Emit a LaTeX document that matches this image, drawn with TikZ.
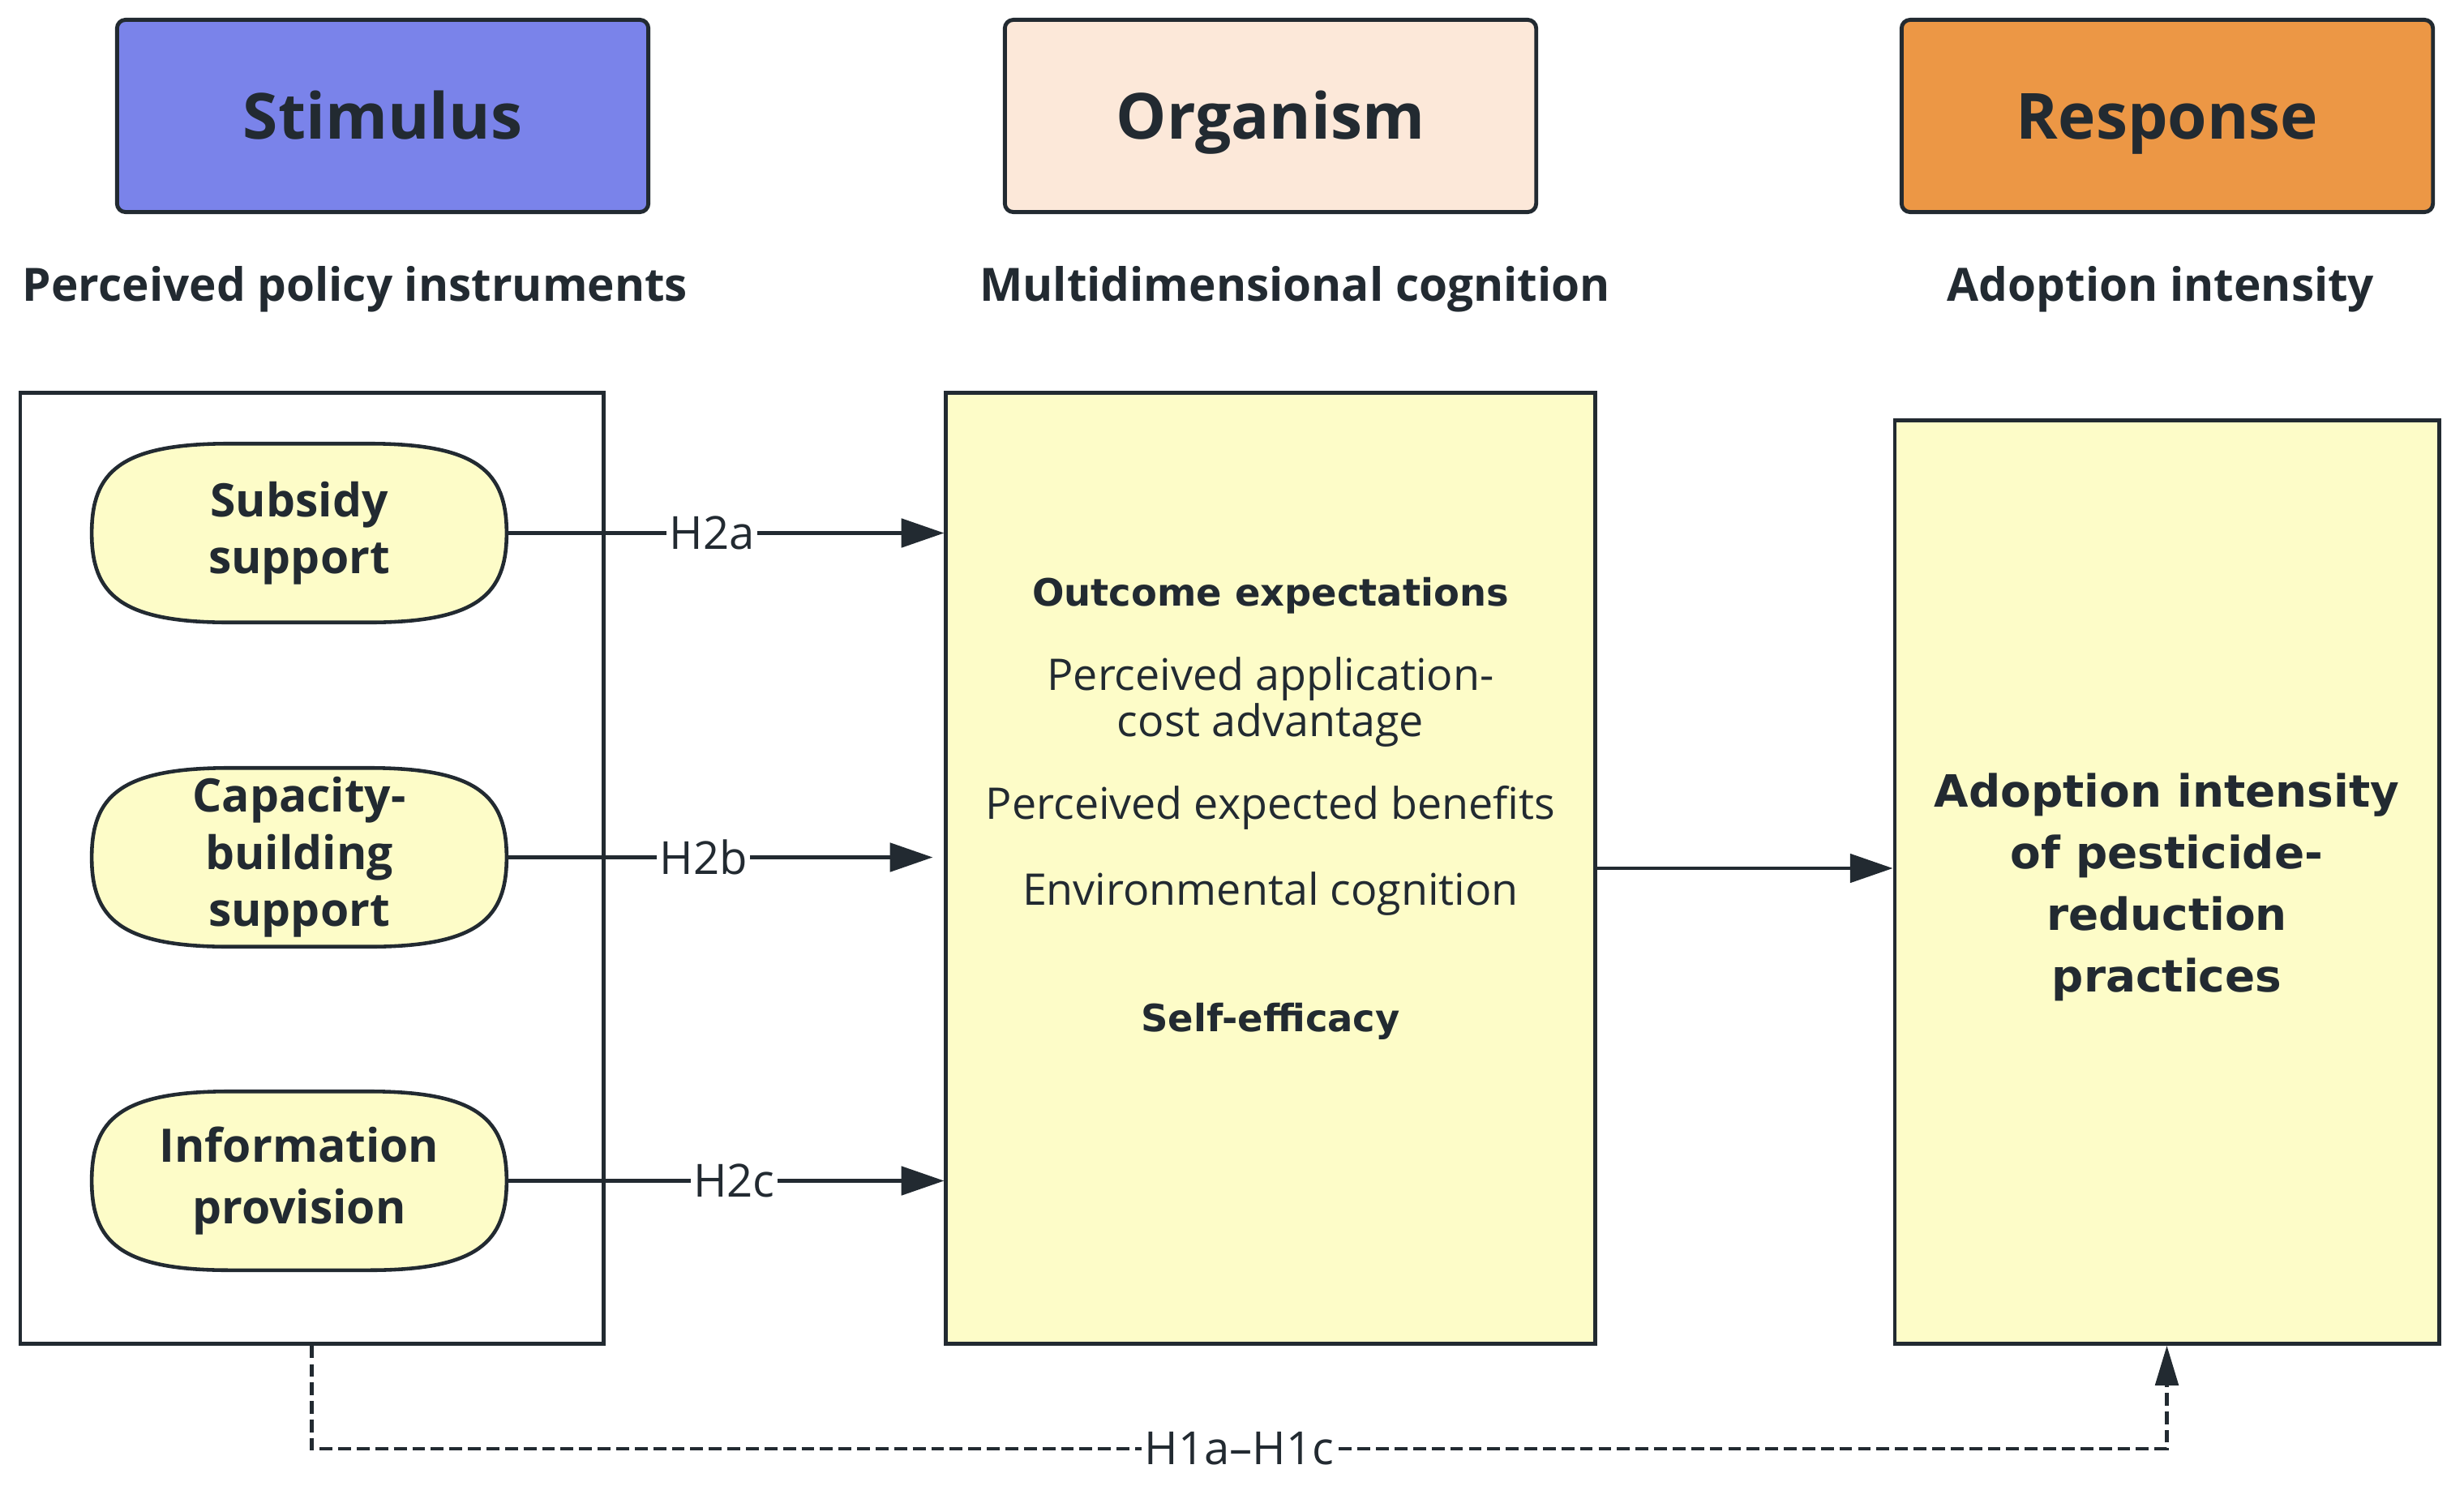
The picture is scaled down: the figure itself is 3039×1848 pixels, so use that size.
\documentclass[tikz,border=0pt]{standalone}
\usepackage{fontspec}
\setmainfont{Open Sans}
\newfontfamily\wideb{DejaVu Sans}
\usetikzlibrary{arrows.meta}
\definecolor{ink}{HTML}{222A31}
\definecolor{stimc}{HTML}{7A83EA}
\definecolor{orgc}{HTML}{FCE8D9}
\definecolor{respc}{HTML}{EC9745}
\definecolor{pale}{HTML}{FDFCC8}
\tikzset{
  titlebox/.style={draw=ink, line width=1.4pt, rounded corners=3pt, minimum width=6.55cm, minimum height=2.37cm, text=ink, text height=16pt, text depth=0pt, font=\fontsize{22.3}{27}\selectfont\bfseries},
  subtitle/.style={text=ink, font=\fontsize{16.1}{20}\selectfont\bfseries},
  bigbox/.style={draw=ink, line width=1.3pt, minimum height=11.72cm},
  pill/.style={minimum width=5.1cm, minimum height=2.19cm, inner sep=0pt, align=center, text=ink, font=\fontsize{16.2}{20}\selectfont\bfseries},
  pillline/.style={draw=ink, fill=pale, line width=1.3pt},
  conn/.style={draw=ink, line width=1.3pt, -{Triangle[length=15pt,width=10pt]}},
  dashconn/.style={draw=ink, line width=1.4pt, dash pattern=on 4.5pt off 2pt, -{Triangle[length=14pt,width=8pt]}},
  lab/.style={fill=white, inner sep=1pt, text=ink, font=\fontsize{16}{18}\selectfont},
  midbold/.style={text=ink, font=\wideb\fontsize{13.2}{16}\selectfont\bfseries},
  midreg/.style={text=ink, align=center, font=\fontsize{15.3}{15}\selectfont},
}
\begin{document}
\begin{tikzpicture}[x=0.01cm,y=-0.01cm]
\useasboundingbox (0,0) rectangle (3039,1848);

% header boxes
\node[titlebox, fill=stimc] (stim) at (472,143) {Stimulus};
\node[titlebox, fill=orgc] (org) at (1567,143) {Organism};
\node[titlebox, fill=respc] (resp) at (2673,143) {Response};

\node[subtitle] (stimsub) at (438,357) {Perceived policy instruments};
\node[subtitle] (orgsub) at (1597,357) {Multidimensional cognition};
\node[subtitle] (respsub) at (2665,357) {Adoption intensity};

% big boxes
\node[bigbox, minimum width=7.19cm] (left) at (384.5,1071) {};
\node[bigbox, fill=pale, minimum width=8.0cm] (mid) at (1567,1071) {};
\node[bigbox, fill=pale, minimum width=6.71cm, minimum height=11.38cm] (right) at (2672.5,1088) {};

% pills
\foreach \n/\y in {p1/657.5, p2/1057.5, p3/1456.5}{
  \node[pill] (\n) at (369,\y) {};
  \path[pillline] ([xshift=1.7cm]\n.north west) -- ([xshift=-1.7cm]\n.north east)
     .. controls ([xshift=-0.35cm]\n.north east) and ([yshift=-0.35cm]\n.north east) .. (\n.east)
     .. controls ([yshift=0.35cm]\n.south east) and ([xshift=-0.35cm]\n.south east) .. ([xshift=-1.7cm]\n.south east)
     -- ([xshift=1.7cm]\n.south west)
     .. controls ([xshift=0.35cm]\n.south west) and ([yshift=0.35cm]\n.south west) .. (\n.west)
     .. controls ([yshift=-0.35cm]\n.north west) and ([xshift=0.35cm]\n.north west) .. ([xshift=1.7cm]\n.north west) -- cycle;
}
\node[pill] at (p1) {Subsidy\\support};
\node[pill] at (p2) {Capacity-\\building\\support};
\node[pill, font=\fontsize{16.2}{21.5}\selectfont\bfseries] at (p3) {Information\\provision};

% middle text
\node[midbold] (oe) at (1567,735) {Outcome expectations};
\node[midreg] (pac) at (1567,866) {Perceived application-\\cost advantage};
\node[midreg] (peb) at (1567,996) {Perceived expected benefits};
\node[midreg] (ec) at (1567,1103) {Environmental cognition};
\node[midbold] (se) at (1567,1260) {Self-efficacy};

% right text
\node[text=ink, align=center, font=\wideb\fontsize{15.6}{21.6}\selectfont\bfseries] (rt) at (2672.5,1094) {Adoption intensity\\of pesticide-\\reduction\\practices};

% connectors
\draw[conn] (p1.east) -- node[lab, pos=0.47] {H2a} (p1.east -| mid.west);
\draw[conn, shorten >=4pt] (p2.east) -- node[lab, pos=0.45] {H2b} (p2.east -| mid.west);
\draw[conn] (p3.east) -- node[lab, pos=0.52] {H2c} (p3.east -| mid.west);
\draw[conn] (mid.east) -- (mid.east -| right.west);
\draw[dashconn] (left.south) -- (left.south |- 0,1787) coordinate (bl)
   -- node[lab] {H1a–H1c} (bl -| right.south) -- (right.south);
\end{tikzpicture}
\end{document}
